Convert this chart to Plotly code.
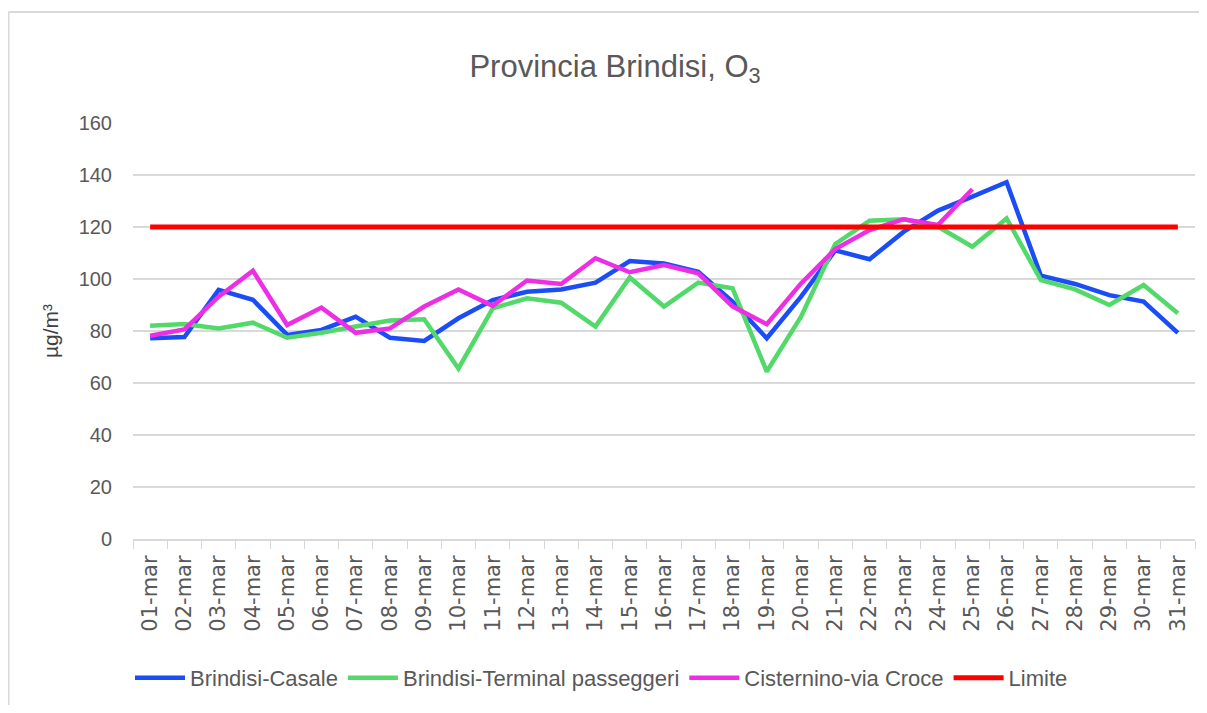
import plotly.graph_objects as go

days = [f"{d:02d}-mar" for d in range(1, 32)]

casale = [77.2, 77.7, 95.8, 92.0, 78.5, 80.4, 85.5, 77.4, 76.2, 84.9,
          91.9, 95.1, 96.0, 98.6, 106.9, 106.0, 102.8, 91.3, 77.2, 93.2,
          111.0, 107.6, 118.2, 126.3, 131.7, 137.2, 101.3, 98.1, 93.8, 91.3,
          79.3]
terminal = [82.0, 82.7, 81.0, 83.2, 77.4, 79.3, 81.7, 84.0, 84.5, 65.6,
            88.7, 92.6, 90.9, 81.7, 100.6, 89.4, 98.6, 96.4, 64.4, 85.5,
            113.5, 122.4, 123.0, 120.1, 112.4, 123.3, 99.6, 96.0, 90.0, 97.7,
            86.8]
cisternino = [78.2, 80.6, 93.2, 103.2, 82.3, 89.0, 79.3, 81.0, 89.4, 96.0,
              89.7, 99.4, 98.1, 108.0, 102.6, 105.4, 102.2, 89.5, 82.6, 98.3,
              111.5, 118.8, 123.0, 120.8, 134.5, None, None, None, None, None,
              None]
limite = [120] * 31

series = [
    ("Brindisi-Casale", casale, "#1B4DF7", 4.5),
    ("Brindisi-Terminal passeggeri", terminal, "#52D96A", 4.5),
    ("Cisternino-via Croce", cisternino, "#EE2EE4", 4.5),
    ("Limite", limite, "#FF0000", 5),
]

W, H = 1191, 697          # page has an 8px body margin
L, R, T, B = 125, 4, 115, 166
PW, PH = W - L - R, H - T - B

fig = go.Figure()
for name, vals, col, lw in series:
    fig.add_trace(go.Scatter(x=days, y=vals, name=name, mode="lines",
                             line=dict(color=col, width=lw),
                             connectgaps=False))

px = lambda p: (p - 8 - L) / PW          # page x -> paper x
py = lambda p: (H - B - (p - 8)) / PH    # page y -> paper y

fig.update_layout(
    width=W, height=H,
    margin=dict(l=L, r=R, t=T, b=B, autoexpand=False),
    paper_bgcolor="white", plot_bgcolor="white",
    font=dict(family="Liberation Sans", color="#595959"),
    title=dict(text="Provincia Brindisi, O<sub>3</sub>", x=px(615),
               xref="paper", xanchor="center",
               y=(H - (66 - 8)) / H, yanchor="middle",
               font=dict(family="Liberation Sans", size=31, color="#595959")),
    showlegend=True,
    legend=dict(orientation="h", x=px(130), xanchor="left",
                y=py(678), yanchor="middle",
                font=dict(size=22, color="#595959"), itemwidth=50,
                tracegroupgap=0),
    xaxis=dict(type="category", tickangle=-90,
               tickfont=dict(family="DejaVu Sans", size=21, color="#595959"),
               showgrid=False, showline=True, linecolor="#D9D9D9", linewidth=2,
               ticks="outside", tickson="boundaries", ticklen=8, tickcolor="#D9D9D9",
               ticklabelstandoff=6,
               range=[-0.5, 30.5], automargin=False),
    yaxis=dict(range=[0, 160], dtick=20, tickfont=dict(size=20, color="#595959"),
               showgrid=True, gridcolor="#D9D9D9", gridwidth=1.5, zeroline=False,
               showline=False, ticklabelstandoff=20, automargin=False,
               title=dict(text="µg/m³", font=dict(size=21, color="#404040"), standoff=14)),
    shapes=[
        dict(type="line", xref="paper", yref="paper",
             x0=px(8.5), x1=px(8.5), y0=py(740), y1=py(12),
             line=dict(color="#D9D9D9", width=2), layer="below"),
        dict(type="line", xref="paper", yref="paper",
             x0=px(8.5), x1=px(1230), y0=py(12), y1=py(12),
             line=dict(color="#D9D9D9", width=2), layer="below"),
    ],
)

fig.write_html("out.html")
